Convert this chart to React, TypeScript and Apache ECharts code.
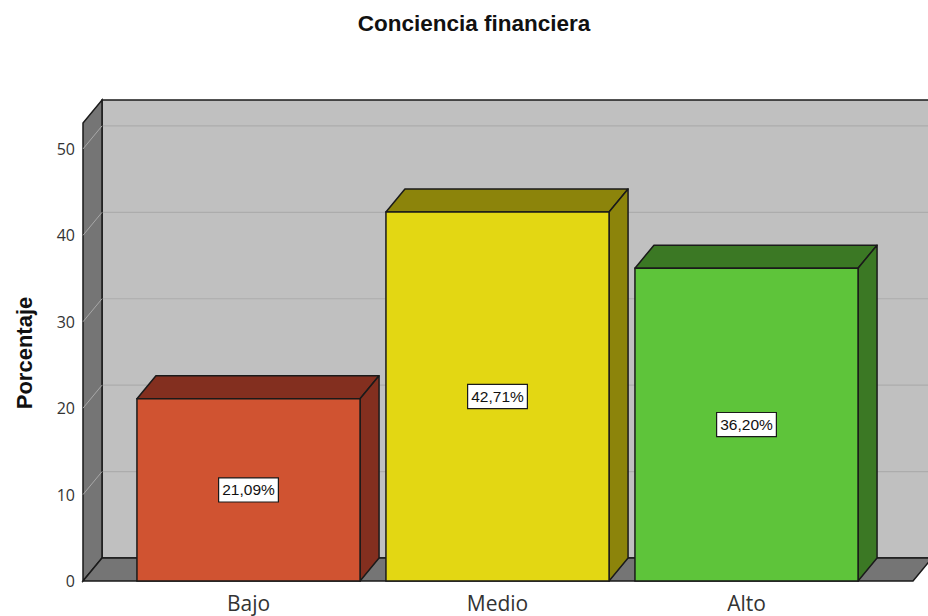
import React, { useEffect, useRef } from "react";
import * as echarts from "echarts";

const CATEGORIES = ["Bajo", "Medio", "Alto"];
const VALUES = [21.09, 42.71, 36.2];
const Y_TICKS = [0, 10, 20, 30, 40, 50];
const Y_MAX = 53;
const FRONT_COLORS = ["#d05331", "#e3d713", "#5ec43a"];
const SIDE_COLORS = ["#832f1f", "#8c840b", "#3b7824"];

const DX = 19;
const DY = -23;
const BAR_RATIO = 0.896;

export default function App() {
  const ref = useRef<HTMLDivElement>(null);

  useEffect(() => {
    document.body.style.margin = "0";
    const chart = echarts.init(ref.current!, null, { renderer: "svg" });

    const wallsRender = (params: any, api: any) => {
      const p0 = api.coord([0, 0]);
      const p1 = api.coord([1, 0]);
      const pt = api.coord([0, Y_MAX]);
      const children: any[] = [];
      children.push({
        type: "rect",
        shape: { x: p0[0] + DX, y: pt[1] + DY, width: p1[0] - p0[0], height: p0[1] - pt[1] },
        style: { fill: "#c0c0c0", stroke: "#1a1a1a", lineWidth: 1.5 },
      });
      Y_TICKS.forEach((t) => {
        if (t === 0) return;
        const y = api.coord([0, t])[1];
        children.push({
          type: "line",
          shape: { x1: p0[0] + DX, y1: y + DY, x2: p1[0] + DX, y2: y + DY },
          style: { stroke: "#acacac", lineWidth: 1.2 },
        });
      });
      children.push({
        type: "polygon",
        shape: {
          points: [
            [p0[0], p0[1]],
            [p0[0], pt[1]],
            [p0[0] + DX, pt[1] + DY],
            [p0[0] + DX, p0[1] + DY],
          ],
        },
        style: { fill: "#757575", stroke: "#1a1a1a", lineWidth: 1.5 },
      });
      Y_TICKS.forEach((t) => {
        if (t === 0) return;
        const y = api.coord([0, t])[1];
        children.push({
          type: "line",
          shape: { x1: p0[0], y1: y, x2: p0[0] + DX, y2: y + DY },
          style: { stroke: "#a8a8a8", lineWidth: 1 },
        });
      });
      children.push({
        type: "polygon",
        shape: {
          points: [
            [p0[0], p0[1]],
            [p0[0] + DX, p0[1] + DY],
            [p1[0] + DX, p1[1] + DY],
            [p1[0], p1[1]],
          ],
        },
        style: { fill: "#757575", stroke: "#1a1a1a", lineWidth: 1.5 },
      });
      return { type: "group", children };
    };

    const barsRender = (params: any, api: any) => {
      const idx = api.value(0);
      const val = api.value(1);
      const top = api.coord([idx, val]);
      const base = api.coord([idx, 0]);
      const w = api.size([1, 0])[0] * BAR_RATIO;
      const x0 = top[0] - w / 2;
      const x1 = top[0] + w / 2;
      const ty = top[1];
      const by = base[1];
      const i = params.dataIndex;
      const stroke = "#1a1a1a";
      return {
        type: "group",
        children: [
          {
            type: "polygon",
            shape: { points: [[x0, ty], [x0 + DX, ty + DY], [x1 + DX, ty + DY], [x1, ty]] },
            style: { fill: SIDE_COLORS[i], stroke, lineWidth: 1.5, lineJoin: "round" },
          },
          {
            type: "polygon",
            shape: { points: [[x1, ty], [x1 + DX, ty + DY], [x1 + DX, by + DY], [x1, by]] },
            style: { fill: SIDE_COLORS[i], stroke, lineWidth: 1.5, lineJoin: "round" },
          },
          {
            type: "rect",
            shape: { x: x0, y: ty, width: w, height: by - ty },
            style: { fill: FRONT_COLORS[i], stroke, lineWidth: 1.5 },
          },
          {
            type: "text",
            x: top[0],
            y: (ty + by) / 2,
            style: {
              text: val.toFixed(2).replace(".", ",") + "%",
              fontSize: 15.5,
              fontFamily: "Liberation Sans, Arial, sans-serif",
              fill: "#111",
              align: "center",
              verticalAlign: "middle",
              backgroundColor: "#ffffff",
              borderColor: "#1a1a1a",
              borderWidth: 1.2,
              padding: [4, 3, 3, 3],
            },
          },
        ],
      };
    };

    chart.setOption({
      animation: false,
      graphic: [
        {
          type: "text",
          x: 474,
          y: 23,
          style: {
            text: "Conciencia financiera",
            fontSize: 22.5,
            fontWeight: "bold",
            fill: "#111",
            fontFamily: "Liberation Sans, Arial, sans-serif",
            align: "center",
            verticalAlign: "middle",
          },
        },
        {
          type: "text",
          x: 24,
          y: 353,
          rotation: Math.PI / 2,
          style: {
            text: "Porcentaje",
            fontSize: 22,
            fontWeight: "bold",
            fill: "#111",
            fontFamily: "Liberation Sans, Arial, sans-serif",
            align: "center",
            verticalAlign: "middle",
          },
        },
      ],
      grid: [
        { left: 83, right: 15, top: 123, bottom: 35 },
        { left: 124, right: 57, top: 123, bottom: 35 },
      ],
      xAxis: [
        { type: "value", gridIndex: 0, min: 0, max: 1, show: false },
        {
          type: "category",
          gridIndex: 1,
          data: CATEGORIES,
          axisLine: { show: false },
          axisTick: { show: false },
          axisLabel: {
            fontSize: 21,
            color: "#333",
            fontFamily: "Open Sans, sans-serif",
            margin: 11,
          },
        },
      ],
      yAxis: [
        {
          type: "value",
          gridIndex: 0,
          min: 0,
          max: Y_MAX,
          interval: 10,
          axisLine: { show: false },
          axisTick: { show: false },
          splitLine: { show: false },
          axisLabel: {
            fontSize: 16,
            color: "#333",
            fontFamily: "Open Sans, sans-serif",
            margin: 8,
            formatter: (v: number) => (Y_TICKS.includes(v) ? String(v) : ""),
          },
        },
        { type: "value", gridIndex: 1, min: 0, max: Y_MAX, show: false },
      ],
      series: [
        {
          type: "custom",
          xAxisIndex: 0,
          yAxisIndex: 0,
          data: [[0, 0]],
          renderItem: wallsRender,
          z: 1,
          silent: true,
        },
        {
          type: "custom",
          xAxisIndex: 1,
          yAxisIndex: 1,
          data: VALUES.map((v, i) => [i, v]),
          renderItem: barsRender,
          z: 2,
          silent: true,
        },
      ],
    });

    return () => chart.dispose();
  }, []);

  return <div ref={ref} style={{ width: 928, height: 616 }} />;
}
